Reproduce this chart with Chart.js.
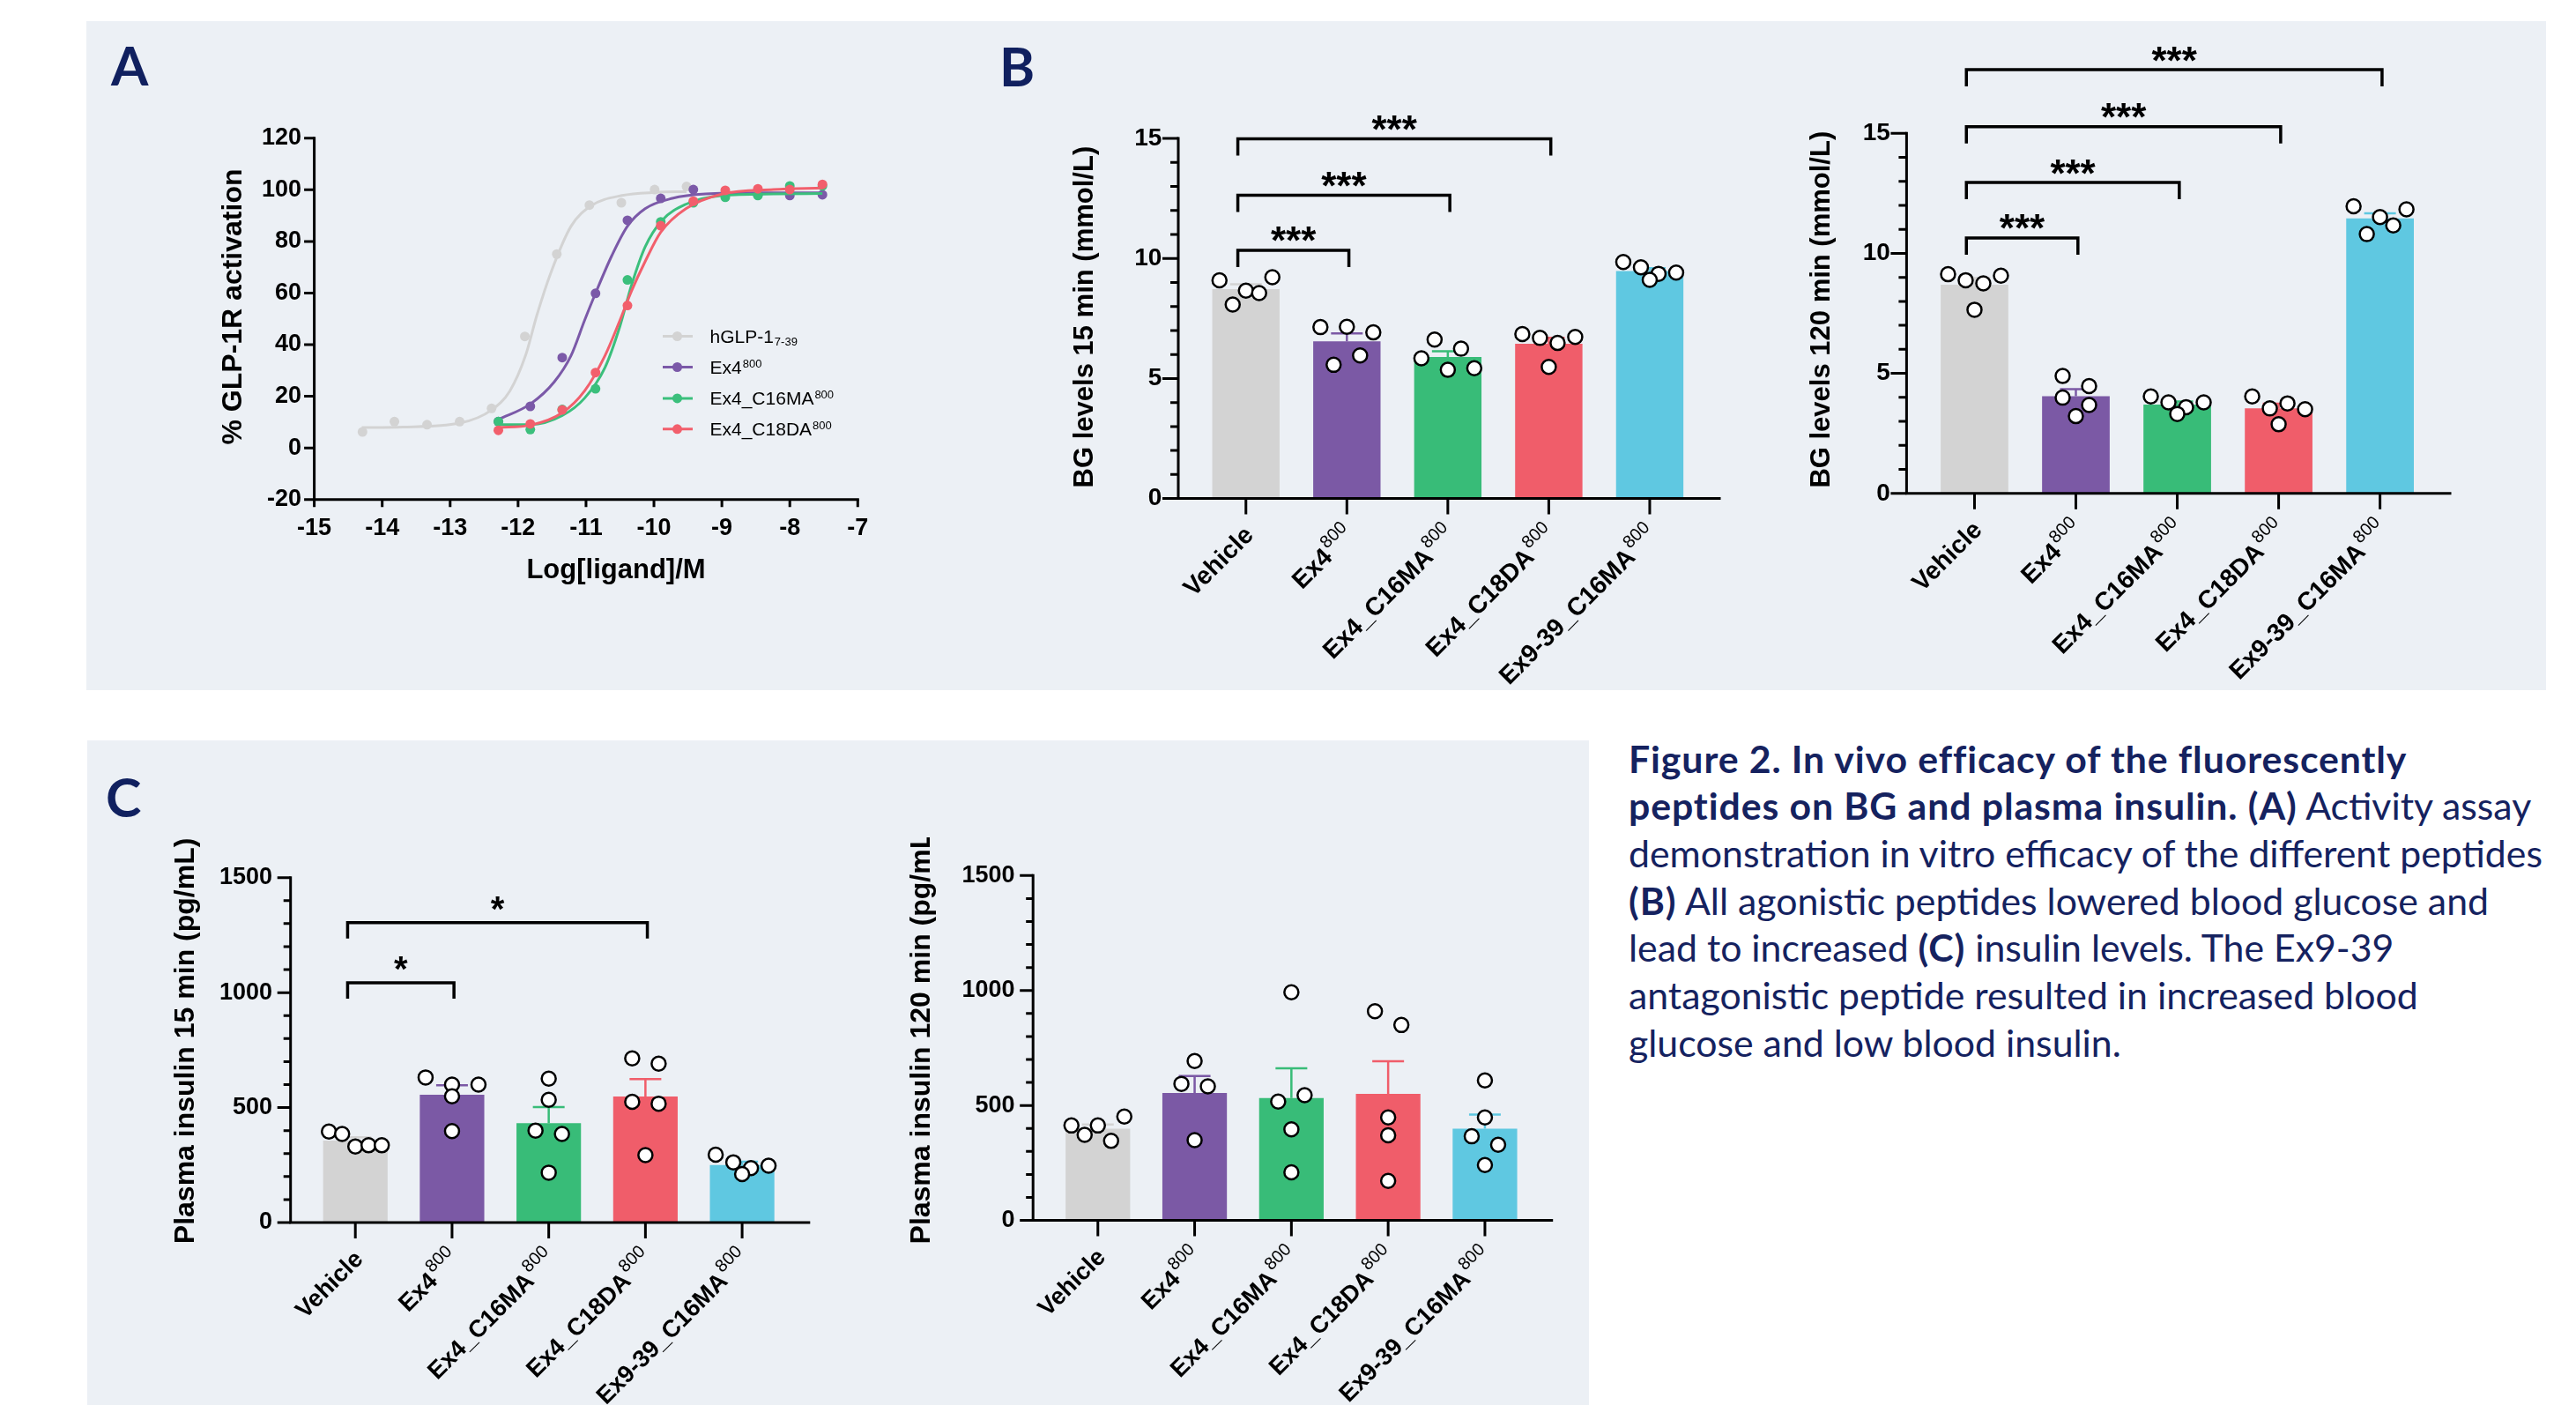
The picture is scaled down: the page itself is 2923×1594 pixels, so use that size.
<!DOCTYPE html>
<html>
<head>
<meta charset="utf-8">
<script src="https://cdn.jsdelivr.net/npm/chart.js@4.4.0/dist/chart.umd.min.js"></script>
<style>
  body { margin: 0; width: 2923px; height: 1594px; background: #fff; position: relative; overflow: hidden; }
  .panel { position: absolute; background: #ECF0F5; }
  .tag { position: absolute; font-family: Lato, "Open Sans", sans-serif; font-weight: 700; font-size: 61px; line-height: 61px; color: #10205f; }
  canvas { position: absolute; }
  #caption { position: absolute; left: 1848px; top: 833.6px; font-family: Lato, "Open Sans", sans-serif; font-size: 42.8px; line-height: 53.7px; color: #15225f; white-space: nowrap; }
  #caption b { font-weight: 700; letter-spacing: 0.9px; }
</style>
</head>
<body>
<div class="panel" style="left:98px;top:24px;width:2791px;height:759px"></div>
<div class="panel" style="left:99px;top:840px;width:1704px;height:754px"></div>
<div class="tag" style="left:126px;top:43px">A</div>
<div class="tag" style="left:1134px;top:44px">B</div>
<div class="tag" style="left:120px;top:873px">C</div>

<canvas id="chartA"></canvas>
<canvas id="chartB15"></canvas>
<canvas id="chartB120"></canvas>
<canvas id="chartC15"></canvas>
<canvas id="chartC120"></canvas>

<div id="caption">
<b>Figure 2. In vivo efficacy of the fluorescently</b><br>
<b>peptides on BG and plasma insulin. (A)</b> Activity assay<br>
demonstration in vitro efficacy of the different peptides<br>
<b>(B)</b> All agonistic peptides lowered blood glucose and<br>
lead to increased <b>(C)</b> insulin levels. The Ex9-39<br>
antagonistic peptide resulted in increased blood<br>
glucose and low blood insulin.
</div>

<script>
// ---------- panel A : GLP-1R activation ----------
const seriesNames = ['hGLP-1', 'Ex4', 'Ex4_C16MA', 'Ex4_C18DA'];
const seriesSuffix = ['7-39', '800', '800', '800'];

const doseGLP1 = [-14.29, -13.82, -13.34, -12.86, -12.39, -11.90, -11.43, -10.95, -10.48, -9.99, -9.52];
const doseEx4 = [-12.29, -11.82, -11.35, -10.86, -10.39, -9.90, -9.42, -8.95, -8.47, -8.00, -7.52];

const actGLP1 = [6.2, 10.2, 9.0, 10.2, 15.3, 43.2, 75.1, 94.1, 95.0, 100.1, 101.3];
const actEx4 = [10.2, 16.1, 35.0, 59.9, 88.2, 96.7, 100.1, 98.3, 98.0, 97.8, 98.1];
const actC16 = [10.2, 7.1, 14.9, 22.9, 65.1, 87.6, 95.0, 97.1, 97.8, 101.5, 101.5];
const actC18 = [6.8, 9.3, 14.7, 29.2, 55.2, 86.1, 95.6, 99.8, 100.4, 100.1, 102.1];

// fitted curves
const fitGLP1X = [-14.30, -13.70, -12.86, -12.39, -12.12, -11.89, -11.72, -11.52, -11.22, -10.92, -10.47, -9.98, -9.52];
const fitGLP1Y = [7.9, 8.1, 9.6, 14.7, 22.1, 35.8, 51.7, 67.7, 85.9, 93.9, 97.8, 99.0, 99.3];
const fitEx4X = [-12.29, -11.82, -11.47, -11.22, -11.02, -10.86, -10.62, -10.39, -10.13, -9.73, -9.24, -8.49, -7.52];
const fitEx4Y = [11.0, 17.0, 25.5, 35.8, 49.5, 59.9, 74.5, 85.9, 92.7, 96.7, 98.4, 98.8, 98.8];
const fitC16X = [-12.29, -11.82, -11.35, -11.02, -10.72, -10.50, -10.33, -10.13, -9.88, -9.53, -8.99, -8.24, -7.52];
const fitC16Y = [9.0, 9.0, 12.5, 19.3, 31.2, 47.2, 63.1, 77.9, 88.2, 94.4, 97.8, 98.4, 98.6];
const fitC18X = [-12.29, -11.82, -11.35, -11.02, -10.72, -10.50, -10.33, -10.13, -9.90, -9.53, -8.99, -8.24, -7.52];
const fitC18Y = [7.9, 8.8, 13.6, 22.1, 35.8, 49.5, 60.8, 72.2, 83.6, 92.7, 98.4, 100.1, 100.7];

// ---------- panels B and C : in vivo groups ----------
const groups = ['Vehicle', 'Ex4', 'Ex4_C16MA', 'Ex4_C18DA', 'Ex9-39_C16MA'];
const groupSup = ['', '800', '800', '800', '800'];

const bg15 = [[9.09, 8.08, 8.66, 9.22, 8.56], [7.14, 7.15, 6.92, 5.57, 5.96], [6.62, 6.24, 5.84, 5.36, 5.43], [6.85, 6.69, 6.48, 6.73, 5.48], [9.85, 9.63, 9.36, 9.41, 9.11]];
const bg120 = [[9.13, 8.88, 8.75, 9.07, 7.65], [4.89, 4.47, 3.99, 3.68, 3.22], [4.04, 3.79, 3.59, 3.79, 3.31], [4.04, 3.54, 3.75, 3.51, 2.88], [11.96, 11.51, 11.83, 10.80, 11.16]];
const ins15 = [[396, 385, 331, 336, 336], [631, 600, 600, 549, 398], [626, 534, 400, 385, 217], [714, 691, 525, 517, 293], [295, 262, 237, 247, 211]];
const ins120 = [[413, 413, 452, 372, 346], [693, 594, 583, 349], [992, 517, 545, 396, 209], [910, 850, 448, 370, 172], [609, 448, 366, 329, 241]];

// [from group, to group, bracket level, label]
const bg15Sig = [[0, 1, 10.34, '***'], [0, 2, 12.63, '***'], [0, 3, 14.98, '***']];
const bg120Sig = [[0, 1, 10.64, '***'], [0, 2, 12.95, '***'], [0, 3, 15.27, '***'], [0, 4, 17.65, '***']];
const ins15Sig = [[0, 1, 1043, '*'], [0, 3, 1304, '*']];

const BAR_COLORS = ['#D3D3D3', '#7B59A5', '#38BC78', '#F05D6A', '#5FC8E1'];
const LINE_COLORS = ['#D3D3D3', '#7B59A8', '#3BBF7C', '#F25F6C'];
const FONT = "'Liberation Sans', Arial, Helvetica, sans-serif";
const X_MIN = -0.67, X_MAX = 4.69;

Chart.defaults.font.family = FONT;
Chart.defaults.color = '#000';

function place(cv, box) {
  cv.width = box.right - box.left;
  cv.height = box.bottom - box.top;
  cv.style.left = box.left + 'px';
  cv.style.top = box.top + 'px';
}

function mean(a) { return a.reduce((s, v) => s + v, 0) / a.length; }
function sem(a) {
  const m = mean(a);
  const sd = Math.sqrt(a.reduce((s, v) => s + (v - m) * (v - m), 0) / (a.length - 1));
  return sd / Math.sqrt(a.length);
}

// spread dots that sit at similar heights (like the prism scatter), offsets in group units
function spread(vals, pxPerUnit, catPx) {
  const order = vals.map((v, i) => i).sort((a, b) => vals[b] - vals[a]);
  const rows = [];
  order.forEach(i => {
    const row = rows[rows.length - 1];
    if (row && (vals[row[0]] - vals[i]) * pxPerUnit < 17.5) row.push(i);
    else rows.push([i]);
  });
  const off = vals.map(() => 0);
  rows.forEach(row => {
    row.sort((a, b) => a - b);
    const k = row.length;
    const s = k > 1 ? Math.min(30, 60 / (k - 1)) : 0;
    row.forEach((idx, j) => { off[idx] = (j - (k - 1) / 2) * s / catPx; });
  });
  return off;
}

function rotatedTitle(ctx, text, x, y, size) {
  ctx.save();
  ctx.translate(x, y);
  ctx.rotate(-Math.PI / 2);
  ctx.font = 'bold ' + size + 'px ' + FONT;
  ctx.fillStyle = '#000';
  ctx.textAlign = 'center';
  ctx.textBaseline = 'middle';
  ctx.fillText(text, 0, 0);
  ctx.restore();
}

// ---------- bar + dots chart ----------
function makeBars(id, o) {
  const cv = document.getElementById(id);
  const b = o.box;
  place(cv, b);
  const catPx = (o.xEnd - o.axisX) / (X_MAX - X_MIN);
  const pxPerUnit = (o.y0 - o.yTop) / o.yMax;
  const means = o.vals.map(mean);
  const errs = o.vals.map(sem);
  const dots = [];
  o.vals.forEach((g, i) => {
    const off = spread(g, pxPerUnit, catPx);
    g.forEach((v, j) => dots.push({ x: i + off[j], y: v }));
  });

  const deco = {
    id: 'deco_' + id,
    afterDatasetDraw(chart, args) {
      if (args.index !== 0) return;
      const ctx = chart.ctx, xs = chart.scales.x, ys = chart.scales.y;
      ctx.save();
      ctx.lineWidth = 2.5;
      means.forEach((m, i) => {
        const x = xs.getPixelForValue(i);
        const y1 = ys.getPixelForValue(m), y2 = ys.getPixelForValue(m + errs[i]);
        ctx.strokeStyle = BAR_COLORS[i];
        ctx.beginPath();
        ctx.moveTo(x, y1); ctx.lineTo(x, y2);
        ctx.moveTo(x - 18, y2); ctx.lineTo(x + 18, y2);
        ctx.stroke();
      });
      ctx.restore();
    },
    afterDraw(chart) {
      const ctx = chart.ctx, xs = chart.scales.x, ys = chart.scales.y;
      const a = chart.chartArea;
      ctx.save();
      ctx.strokeStyle = '#000';
      ctx.fillStyle = '#000';
      // axes
      ctx.lineWidth = 3;
      ctx.lineCap = 'square';
      ctx.lineJoin = 'miter';
      ctx.beginPath();
      ctx.moveTo(a.left, a.top); ctx.lineTo(a.left, a.bottom); ctx.lineTo(a.right, a.bottom);
      ctx.stroke();
      ctx.lineCap = 'butt';
      // y ticks, major and minor
      ctx.beginPath();
      for (let v = 0; v <= o.yMax + 1e-9; v += o.minor) {
        const y = ys.getPixelForValue(v);
        const len = (Math.abs(v / o.major - Math.round(v / o.major)) < 1e-6) ? o.majorLen : o.minorLen;
        ctx.moveTo(a.left - len, y); ctx.lineTo(a.left, y);
      }
      // x ticks
      groups.forEach((g, i) => {
        const x = xs.getPixelForValue(i);
        ctx.moveTo(x, a.bottom); ctx.lineTo(x, a.bottom + 18);
      });
      ctx.stroke();
      // rotated group labels with superscript
      groups.forEach((g, i) => {
        const x = xs.getPixelForValue(i) + 10, y = a.bottom + 43;
        ctx.save();
        ctx.translate(x, y);
        ctx.rotate(-Math.PI / 4);
        ctx.textAlign = 'right';
        ctx.textBaseline = 'alphabetic';
        let supW = 0;
        if (groupSup[i]) {
          ctx.font = '20px ' + FONT;
          supW = ctx.measureText(groupSup[i]).width + 2;
          ctx.fillText(groupSup[i], 0, -13);
        }
        ctx.font = 'bold ' + o.labelSize + 'px ' + FONT;
        ctx.fillText(g, -supW, 0);
        ctx.restore();
      });
      // axis title
      rotatedTitle(ctx, o.title, o.tx - b.left, o.ty - b.top, o.tsize);
      // significance brackets
      (o.sig || []).forEach(s => {
        const x1 = xs.getPixelForValue(s[0] - 0.08), x2 = xs.getPixelForValue(s[1] + 0.02);
        const y = ys.getPixelForValue(s[2]);
        ctx.lineWidth = 3.5;
        ctx.beginPath();
        ctx.moveTo(x1, y + o.drop); ctx.lineTo(x1, y); ctx.lineTo(x2, y); ctx.lineTo(x2, y + o.drop);
        ctx.stroke();
        ctx.font = 'bold ' + o.starSize + 'px ' + FONT;
        ctx.textAlign = 'center';
        ctx.textBaseline = 'alphabetic';
        const m = ctx.measureText(s[3]);
        const cy = y - o.starGap;
        ctx.fillText(s[3], (x1 + x2) / 2, cy + (m.actualBoundingBoxAscent - m.actualBoundingBoxDescent) / 2);
      });
      ctx.restore();
    }
  };

  new Chart(cv, {
    type: 'bar',
    data: {
      datasets: [
        {
          type: 'bar',
          data: means.map((m, i) => ({ x: i, y: m })),
          backgroundColor: BAR_COLORS,
          borderWidth: 0,
          barPercentage: 0.667,
          categoryPercentage: 1,
          order: 2
        },
        {
          type: 'scatter',
          data: dots,
          pointRadius: 8,
          pointBackgroundColor: '#fff',
          pointBorderColor: '#000',
          pointBorderWidth: 2.5,
          order: 1
        }
      ]
    },
    options: {
      responsive: false,
      animation: false,
      devicePixelRatio: 1,
      layout: { padding: { left: 0, top: o.yTop - b.top, right: b.right - o.xEnd, bottom: 0 } },
      plugins: { legend: { display: false }, tooltip: { enabled: false } },
      scales: {
        x: {
          type: 'linear', min: X_MIN, max: X_MAX, offset: false,
          grid: { display: false, drawTicks: false }, border: { display: false },
          ticks: { display: false, stepSize: 1, includeBounds: false },
          afterFit: s => { s.height = b.bottom - o.y0; }
        },
        y: {
          min: 0, max: o.yMax,
          grid: { display: false, drawTicks: false }, border: { display: false },
          ticks: { stepSize: o.major, padding: o.tickGap, font: { size: o.tickSize, weight: 'bold' }, color: '#000', callback: v => String(v) },
          afterFit: s => { s.width = o.axisX - b.left; }
        }
      }
    },
    plugins: [deco]
  });
}

// ---------- panel A chart ----------
function makeDoseResponse() {
  const cv = document.getElementById('chartA');
  const box = { left: 230, top: 120, right: 1010, bottom: 700 };
  const axisX = 356.6, xEnd = 973.3, y0 = 566.7, yTop = 156.8;
  place(cv, box);

  const fitsX = [fitGLP1X, fitEx4X, fitC16X, fitC18X];
  const fitsY = [fitGLP1Y, fitEx4Y, fitC16Y, fitC18Y];
  const doses = [doseGLP1, doseEx4, doseEx4, doseEx4];
  const acts = [actGLP1, actEx4, actC16, actC18];

  const datasets = [];
  seriesNames.forEach((n, i) => {
    datasets.push({
      type: 'line',
      data: fitsX[i].map((x, j) => ({ x, y: fitsY[i][j] })),
      borderColor: LINE_COLORS[i], borderWidth: 3, pointRadius: 0,
      cubicInterpolationMode: 'monotone', fill: false, order: 4 - i
    });
    datasets.push({
      type: 'scatter',
      data: doses[i].map((x, j) => ({ x, y: acts[i][j] })),
      pointRadius: 5.5, pointBackgroundColor: LINE_COLORS[i], pointBorderWidth: 0, order: 4 - i
    });
  });

  const deco = {
    id: 'decoA',
    afterDraw(chart) {
      const ctx = chart.ctx, xs = chart.scales.x, ys = chart.scales.y;
      const a = chart.chartArea;
      ctx.save();
      ctx.strokeStyle = '#000';
      ctx.fillStyle = '#000';
      ctx.lineWidth = 3;
      ctx.lineCap = 'square';
      ctx.beginPath();
      ctx.moveTo(a.left, a.top); ctx.lineTo(a.left, a.bottom); ctx.lineTo(a.right, a.bottom);
      ctx.stroke();
      ctx.lineCap = 'butt';
      ctx.beginPath();
      for (let v = -20; v <= 120; v += 20) {
        const y = ys.getPixelForValue(v);
        ctx.moveTo(a.left - 11.5, y); ctx.lineTo(a.left, y);
      }
      for (let v = -15; v <= -7; v += 1) {
        const x = xs.getPixelForValue(v);
        ctx.moveTo(x, a.bottom); ctx.lineTo(x, a.bottom + 8.6);
      }
      ctx.stroke();
      // titles
      rotatedTitle(ctx, '% GLP-1R activation', 265.4 - box.left, 348 - box.top, 32);
      ctx.font = 'bold 31px ' + FONT;
      ctx.textAlign = 'center';
      ctx.textBaseline = 'alphabetic';
      ctx.fillText('Log[ligand]/M', 699 - box.left, 656 - box.top);
      // legend
      const rows = [381.5, 416.5, 451.9, 486.8];
      seriesNames.forEach((n, i) => {
        const y = rows[i] - box.top;
        ctx.strokeStyle = LINE_COLORS[i];
        ctx.fillStyle = LINE_COLORS[i];
        ctx.lineWidth = 3;
        ctx.beginPath();
        ctx.moveTo(752 - box.left, y); ctx.lineTo(786 - box.left, y);
        ctx.stroke();
        ctx.beginPath();
        ctx.arc(768.5 - box.left, y, 5.5, 0, Math.PI * 2);
        ctx.fill();
        ctx.fillStyle = '#000';
        ctx.textAlign = 'left';
        ctx.font = '21px ' + FONT;
        const tx = 805.5 - box.left;
        ctx.fillText(n, tx, y + 7.5);
        const w = ctx.measureText(n).width;
        ctx.font = '13px ' + FONT;
        ctx.fillText(seriesSuffix[i], tx + w + 1, i === 0 ? y + 10 : y);
      });
      ctx.restore();
    }
  };

  new Chart(cv, {
    type: 'scatter',
    data: { datasets },
    options: {
      responsive: false,
      animation: false,
      devicePixelRatio: 1,
      layout: { padding: { left: 0, top: yTop - box.top, right: box.right - xEnd, bottom: 0 } },
      plugins: { legend: { display: false }, tooltip: { enabled: false } },
      scales: {
        x: {
          type: 'linear', min: -15, max: -7,
          grid: { display: false, drawTicks: false }, border: { display: false },
          ticks: { stepSize: 1, padding: 16.7, maxRotation: 0, autoSkip: false, font: { size: 27, weight: 'bold' }, color: '#000' },
          afterFit: s => { s.height = box.bottom - y0; }
        },
        y: {
          min: -20, max: 120,
          grid: { display: false, drawTicks: false }, border: { display: false },
          ticks: { stepSize: 20, padding: 14.6, font: { size: 27, weight: 'bold' }, color: '#000' },
          afterFit: s => { s.width = axisX - box.left; }
        }
      }
    },
    plugins: [deco]
  });
}

makeDoseResponse();

makeBars('chartB15', {
  box: { left: 1180, top: 40, right: 1985, bottom: 790 },
  axisX: 1337, xEnd: 1951, y0: 565.6, yTop: 157,
  vals: bg15, yMax: 15, major: 5, minor: 1,
  tickSize: 28, tickGap: 18.6, majorLen: 18, minorLen: 9, labelSize: 28.5,
  title: 'BG levels 15 min (mmol/L)', tx: 1231.6, ty: 359.6, tsize: 31,
  sig: bg15Sig, starSize: 44, starGap: 18, drop: 19
});

makeBars('chartB120', {
  box: { left: 2030, top: 20, right: 2810, bottom: 790 },
  axisX: 2163.4, xEnd: 2780, y0: 559.8, yTop: 151.2,
  vals: bg120, yMax: 15, major: 5, minor: 1,
  tickSize: 28, tickGap: 18.6, majorLen: 18, minorLen: 9, labelSize: 28.5,
  title: 'BG levels 120 min (mmol/L)', tx: 2067.5, ty: 351.2, tsize: 31,
  sig: bg120Sig, starSize: 44, starGap: 18, drop: 19
});

makeBars('chartC15', {
  box: { left: 180, top: 950, right: 950, bottom: 1594 },
  axisX: 329.7, xEnd: 917.8, y0: 1387, yTop: 995.7,
  vals: ins15, yMax: 1500, major: 500, minor: 100,
  tickSize: 27, tickGap: 20.6, majorLen: 15, minorLen: 8, labelSize: 27.5,
  title: 'Plasma insulin 15 min (pg/mL)', tx: 211.5, ty: 1180.9, tsize: 32,
  sig: ins15Sig, starSize: 40, starGap: 22, drop: 18
});

makeBars('chartC120', {
  box: { left: 1010, top: 950, right: 1790, bottom: 1594 },
  axisX: 1172.2, xEnd: 1760.7, y0: 1384.6, yTop: 993.3,
  vals: ins120, yMax: 1500, major: 500, minor: 100,
  tickSize: 27, tickGap: 20.6, majorLen: 15, minorLen: 8, labelSize: 27.5,
  title: 'Plasma insulin 120 min (pg/mL)', tx: 1046, ty: 1172.3, tsize: 32,
  sig: [], starSize: 40, starGap: 22, drop: 18
});
</script>
</body>
</html>
